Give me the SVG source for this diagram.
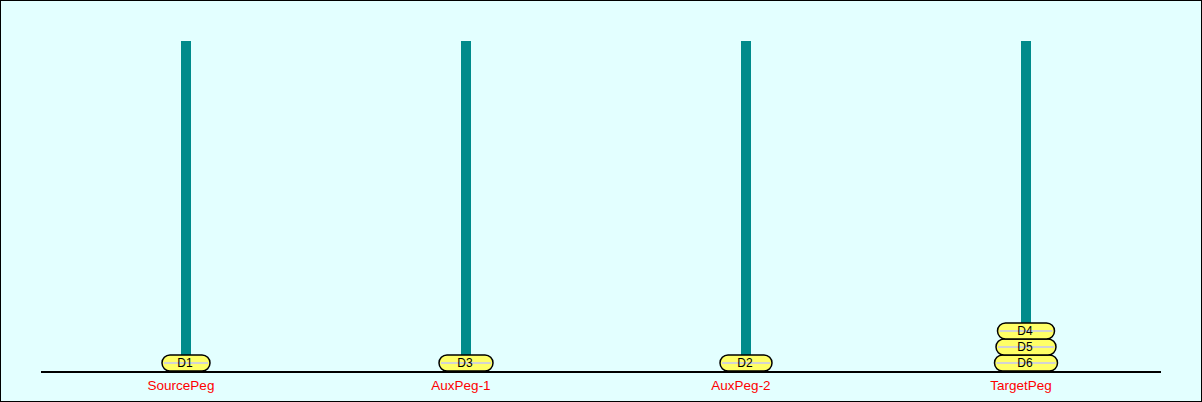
<svg xmlns="http://www.w3.org/2000/svg" width="1202" height="402" viewBox="0 0 1202 402">
<style>
.peg{fill:#008b8b}
.disk{fill:#ffff66;stroke:#000;stroke-width:1.5}
.shine{stroke:#d3d3d3;stroke-width:2}
.dl{font-family:"Liberation Sans",Arial,sans-serif;font-size:12px;fill:#000;text-anchor:middle}
.pl{font-family:"Liberation Sans",Arial,sans-serif;font-size:13.5px;fill:#ff0000;text-anchor:middle}
</style>
<rect x="0.5" y="0.5" width="1201" height="401" fill="#e3ffff" stroke="#000" stroke-width="1"/>
<g id="connectors">
<line x1="41" y1="372" x2="1161" y2="372" stroke="#000" stroke-width="2"/>
</g>
<g id="SourcePeg">
<rect class="peg" x="181" y="41" width="10" height="330"/>
<text class="pl" x="181" y="390">SourcePeg</text>
</g>
<g id="AuxPeg-1">
<rect class="peg" x="461" y="41" width="10" height="330"/>
<text class="pl" x="461" y="390">AuxPeg-1</text>
</g>
<g id="AuxPeg-2">
<rect class="peg" x="741" y="41" width="10" height="330"/>
<text class="pl" x="741" y="390">AuxPeg-2</text>
</g>
<g id="TargetPeg">
<rect class="peg" x="1021" y="41" width="10" height="330"/>
<text class="pl" x="1021" y="390">TargetPeg</text>
</g>
<g id="D1">
<rect class="disk" x="162" y="355" width="48" height="16" rx="8"/>
<line class="shine" x1="164" y1="363" x2="208" y2="363"/>
<text class="dl" x="185" y="367">D1</text>
</g>
<g id="D3">
<rect class="disk" x="439" y="355" width="54" height="16" rx="8"/>
<line class="shine" x1="441" y1="363" x2="491" y2="363"/>
<text class="dl" x="465" y="367">D3</text>
</g>
<g id="D2">
<rect class="disk" x="720" y="355" width="52" height="16" rx="8"/>
<line class="shine" x1="722" y1="363" x2="770" y2="363"/>
<text class="dl" x="745" y="367">D2</text>
</g>
<g id="D6">
<rect class="disk" x="994.5" y="355" width="63" height="16" rx="8"/>
<line class="shine" x1="996.5" y1="363" x2="1055.5" y2="363"/>
<text class="dl" x="1025" y="367">D6</text>
</g>
<g id="D5">
<rect class="disk" x="996" y="339" width="60" height="16" rx="8"/>
<line class="shine" x1="998" y1="347" x2="1054" y2="347"/>
<text class="dl" x="1025" y="351">D5</text>
</g>
<g id="D4">
<rect class="disk" x="997.5" y="323" width="57" height="16" rx="8"/>
<line class="shine" x1="999.5" y1="331" x2="1052.5" y2="331"/>
<text class="dl" x="1025" y="335">D4</text>
</g>
</svg>
